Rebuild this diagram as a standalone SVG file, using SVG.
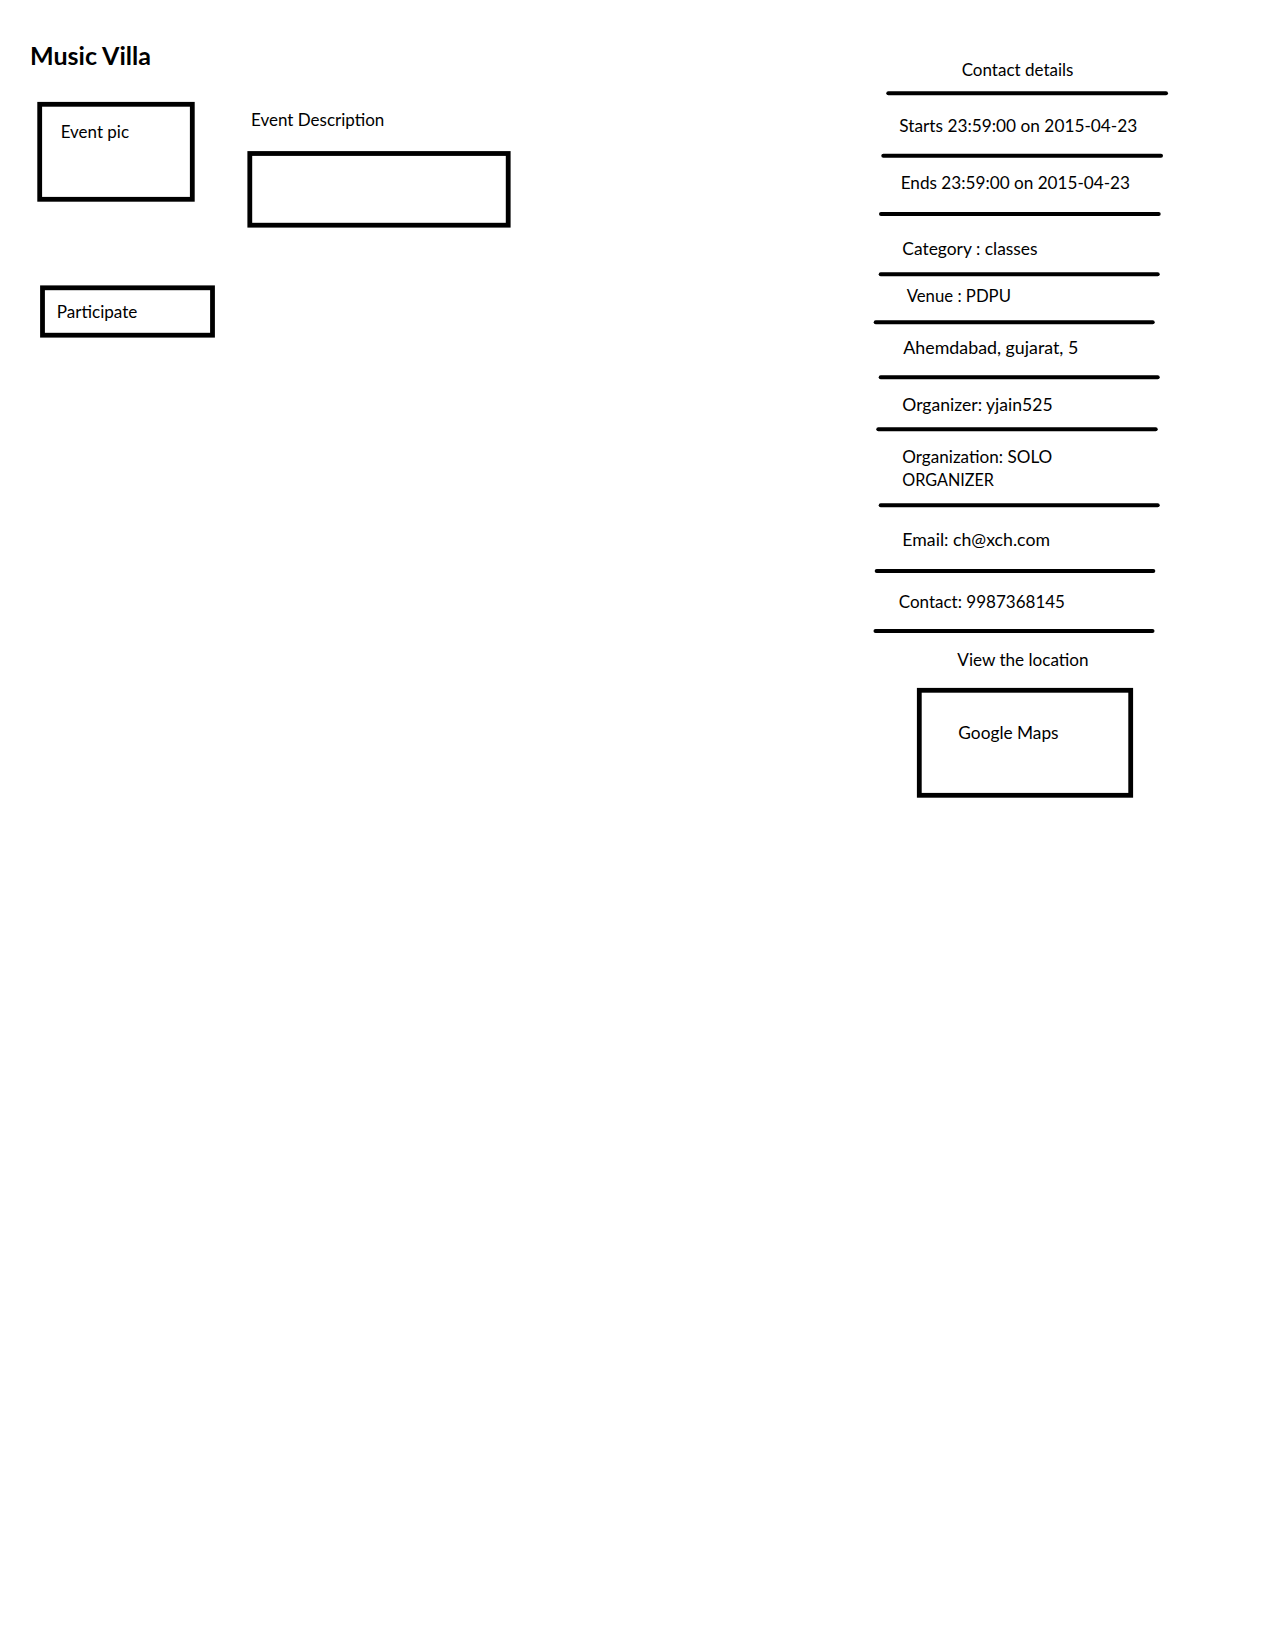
<svg xmlns="http://www.w3.org/2000/svg" width="1264" height="1636" viewBox="0 0 1264 1636">
  <style>
    text { font-family: Lato, "Open Sans", "Liberation Sans", sans-serif; font-size: 17px; fill: #000; }
    .title { font-size: 24.5px; font-weight: bold; }
    .box { fill: none; stroke: #000; stroke-width: 4.8; }
    .sep { stroke: #000; stroke-width: 4; stroke-linecap: round; }
  </style>
  <rect width="1264" height="1636" fill="#fff"/>

  <g id="title">
    <text class="title" x="30" y="65" textLength="121" lengthAdjust="spacingAndGlyphs">Music Villa</text>
  </g>

  <g id="event-pic">
    <rect class="box" x="39.7" y="104.3" width="152.6" height="95"/>
    <text x="60.7" y="137.7" textLength="68.3" lengthAdjust="spacingAndGlyphs">Event pic</text>
  </g>

  <g id="event-description">
    <text x="251" y="125.7" textLength="133.3" lengthAdjust="spacingAndGlyphs">Event Description</text>
    <rect class="box" x="249.8" y="153.5" width="258.4" height="71.7"/>
  </g>

  <g id="participate">
    <rect class="box" x="42.5" y="287.8" width="170" height="47.4"/>
    <text x="56.7" y="318.3" textLength="80.7" lengthAdjust="spacingAndGlyphs">Participate</text>
  </g>

  <!-- right-hand details column -->
  <g id="details">
    <text x="961.7" y="75.7" textLength="111.7" lengthAdjust="spacingAndGlyphs">Contact details</text>
    <text x="899.3" y="132.3" textLength="238" lengthAdjust="spacingAndGlyphs">Starts 23:59:00 on 2015-04-23</text>
    <text x="900.7" y="188.7" textLength="229.3" lengthAdjust="spacingAndGlyphs">Ends 23:59:00 on 2015-04-23</text>
    <text x="902.3" y="255.3" textLength="135.3" lengthAdjust="spacingAndGlyphs">Category : classes</text>
    <text x="906.7" y="302.3" textLength="104.3" lengthAdjust="spacingAndGlyphs">Venue : PDPU</text>
    <text x="903.3" y="354" textLength="175" lengthAdjust="spacingAndGlyphs">Ahemdabad, gujarat, 5</text>
    <text x="902.3" y="411" textLength="150.3" lengthAdjust="spacingAndGlyphs">Organizer: yjain525</text>
    <text x="902.3" y="463.3" textLength="150" lengthAdjust="spacingAndGlyphs">Organization: SOLO</text>
    <text x="902.3" y="486" textLength="91.7" lengthAdjust="spacingAndGlyphs">ORGANIZER</text>
    <text x="902.3" y="546" textLength="147.7" lengthAdjust="spacingAndGlyphs">Email: ch@xch.com</text>
    <text x="898.7" y="607.7" textLength="166.3" lengthAdjust="spacingAndGlyphs">Contact: 9987368145</text>
    <text x="957.3" y="665.7" textLength="131.3" lengthAdjust="spacingAndGlyphs">View the location</text>
  </g>

  <g id="separators">
    <line class="sep" x1="888.3" y1="93.3" x2="1166" y2="93.3"/>
    <line class="sep" x1="883.3" y1="155.7" x2="1161" y2="155.7"/>
    <line class="sep" x1="881" y1="214" x2="1158.7" y2="214"/>
    <line class="sep" x1="880.7" y1="274.3" x2="1157.7" y2="274.3"/>
    <line class="sep" x1="875.7" y1="322.3" x2="1152.7" y2="322.3"/>
    <line class="sep" x1="880.7" y1="377.3" x2="1157.7" y2="377.3"/>
    <line class="sep" x1="878.3" y1="429.3" x2="1155.7" y2="429.3"/>
    <line class="sep" x1="880.7" y1="505.3" x2="1157.7" y2="505.3"/>
    <line class="sep" x1="876.7" y1="571" x2="1153.3" y2="571"/>
    <line class="sep" x1="875.5" y1="631" x2="1152.5" y2="631"/>
  </g>

  <g id="google-maps">
    <rect class="box" x="919.3" y="690.3" width="211.4" height="105"/>
    <text x="958.3" y="739" textLength="100.3" lengthAdjust="spacingAndGlyphs">Google Maps</text>
  </g>
</svg>
